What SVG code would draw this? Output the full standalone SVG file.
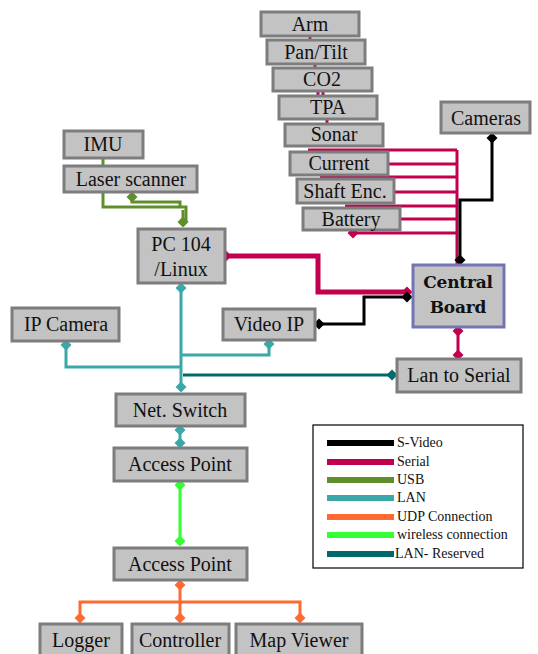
<svg xmlns="http://www.w3.org/2000/svg" width="538" height="654" viewBox="0 0 538 654" font-family="'Liberation Serif', 'Times New Roman', serif">
<style>
.n rect{fill:#c3c3c3;stroke:#7d7d7d;stroke-width:3}
.n text{font-family:'Liberation Serif','Times New Roman',serif;font-size:20px;fill:#111;text-anchor:middle}
.c path{fill:none;stroke-linejoin:miter}
.sv{stroke:#000;stroke-width:3}
.se{stroke:#c2004e;stroke-width:3}
.us{stroke:#5f8f2a;stroke-width:3}
.la{stroke:#3aa8a8;stroke-width:3}
.lr{stroke:#006a6a;stroke-width:3}
.ud{stroke:#ff6a33;stroke-width:3}
.wi{stroke:#33ff33;stroke-width:3}
.lg text{font-family:'Liberation Serif','Times New Roman',serif;font-size:14px;fill:#111}
.lg line{stroke-width:6}
.n text.cb{font-family:'DejaVu Serif',serif;font-weight:900;font-size:17px;letter-spacing:-0.2px}
</style>
<defs>
<marker id="dk" markerUnits="userSpaceOnUse" markerWidth="14" markerHeight="14" refX="7" refY="7" orient="auto"><path d="M1.5,7 L7,1.5 L12.5,7 L7,12.5 Z" fill="#000"/></marker>
<marker id="dr" markerUnits="userSpaceOnUse" markerWidth="14" markerHeight="14" refX="7" refY="7" orient="auto"><path d="M1.5,7 L7,1.5 L12.5,7 L7,12.5 Z" fill="#c2004e"/></marker>
<marker id="dg" markerUnits="userSpaceOnUse" markerWidth="14" markerHeight="14" refX="7" refY="7" orient="auto"><path d="M1.5,7 L7,1.5 L12.5,7 L7,12.5 Z" fill="#5f8f2a"/></marker>
<marker id="dt" markerUnits="userSpaceOnUse" markerWidth="14" markerHeight="14" refX="7" refY="7" orient="auto"><path d="M1.5,7 L7,1.5 L12.5,7 L7,12.5 Z" fill="#3aa8a8"/></marker>
<marker id="dd" markerUnits="userSpaceOnUse" markerWidth="14" markerHeight="14" refX="7" refY="7" orient="auto"><path d="M1.5,7 L7,1.5 L12.5,7 L7,12.5 Z" fill="#006a6a"/></marker>
<marker id="do" markerUnits="userSpaceOnUse" markerWidth="14" markerHeight="14" refX="7" refY="7" orient="auto"><path d="M1.5,7 L7,1.5 L12.5,7 L7,12.5 Z" fill="#ff6a33"/></marker>
<marker id="dl" markerUnits="userSpaceOnUse" markerWidth="14" markerHeight="14" refX="7" refY="7" orient="auto"><path d="M1.5,7 L7,1.5 L12.5,7 L7,12.5 Z" fill="#33ff33"/></marker>
</defs>
<g id="connectors" class="c">
<path class="se" d="M457,150 V266"/>
<path class="se" d="M308,150 H457"/>
<path class="se" d="M388,164 H457"/>
<path class="se" d="M320,177 H457"/>
<path class="se" d="M394,192 H457"/>
<path class="se" d="M345,206 H457"/>
<path class="se" d="M400,219 H457"/>
<path class="se" d="M353,233 H457" marker-start="url(#dr)"/>
<path class="se" d="M310,35 V41"/>
<path class="se" d="M315,63 V69"/>
<path class="se" d="M318,90 V97 M323,90 V97"/>
<path class="se" d="M327,118 V125"/>
<path class="se" d="M226,256 H318 V292 H407" style="stroke-width:5" marker-start="url(#dr)" marker-end="url(#dr)"/>
<path class="se" d="M458,331 V355" marker-start="url(#dr)" marker-end="url(#dr)"/>
<path class="sv" d="M492,138 V200 H460 V260" marker-start="url(#dk)" marker-end="url(#dk)"/>
<path class="sv" d="M319,324 H364 V297 H407" marker-start="url(#dk)" marker-end="url(#dk)"/>
<path class="us" d="M103,158 V166"/>
<path class="us" d="M103,192 V207 H186 V222"/>
<path class="us" d="M132,197 V202 H180 V207" marker-start="url(#dg)"/>
<path class="us" d="M183,210 V222" marker-end="url(#dg)"/>
<path class="la" d="M181,288 V387" marker-start="url(#dt)" marker-end="url(#dt)"/>
<path class="la" d="M66,345 V367 H181" marker-start="url(#dt)"/>
<path class="la" d="M269,344 V355 H181" marker-start="url(#dt)"/>
<path class="la" d="M180,430 V443" marker-start="url(#dt)" marker-end="url(#dt)"/>
<path class="lr" d="M183,375 H392" marker-end="url(#dd)"/>
<path class="wi" d="M180,485 V541" marker-start="url(#dl)" marker-end="url(#dl)"/>
<path class="ud" d="M180,585 V618" marker-start="url(#do)" marker-end="url(#do)"/>
<path class="ud" d="M80,618 V602 H300 V618" marker-start="url(#do)" marker-end="url(#do)"/>
</g>
<g id="arm" class="n"><rect x="261" y="12" width="98" height="24"/><text x="310" y="31">Arm</text></g>
<g id="pantilt" class="n"><rect x="267" y="40" width="98" height="24"/><text x="316" y="59">Pan/Tilt</text></g>
<g id="co2" class="n"><rect x="273" y="68" width="99" height="23"/><text x="322" y="86">CO2</text></g>
<g id="tpa" class="n"><rect x="279" y="96" width="98" height="23"/><text x="328" y="114">TPA</text></g>
<g id="sonar" class="n"><rect x="285" y="124" width="98" height="22"/><text x="334" y="141">Sonar</text></g>
<g id="current" class="n"><rect x="290" y="152" width="98" height="23"/><text x="339" y="170">Current</text></g>
<g id="shaft" class="n"><rect x="297" y="179" width="97" height="24"/><text x="345" y="198">Shaft Enc.</text></g>
<g id="battery" class="n"><rect x="303" y="208" width="97" height="22"/><text x="351" y="226">Battery</text></g>
<g id="cameras" class="n"><rect x="441" y="102" width="89" height="31"/><text x="486" y="125">Cameras</text></g>
<g id="imu" class="n"><rect x="64" y="131" width="79" height="27"/><text x="103" y="151">IMU</text></g>
<g id="laser" class="n"><rect x="64" y="166" width="133" height="26"/><text x="131" y="186">Laser scanner</text></g>
<g id="pc104" class="n"><rect x="138" y="229" width="87" height="54"/><text x="181" y="251">PC 104</text><text x="181" y="276">/Linux</text></g>
<g id="central" class="n"><rect x="413" y="265" width="91" height="62" style="stroke:#7474b4"/><text class="cb" x="458" y="288">Central</text><text class="cb" x="458" y="313">Board</text></g>
<g id="ipcamera" class="n"><rect x="12" y="308" width="107" height="33"/><text x="66" y="331">IP Camera</text></g>
<g id="videoip" class="n"><rect x="223" y="309" width="92" height="31"/><text x="269" y="331">Video IP</text></g>
<g id="lantoserial" class="n"><rect x="397" y="359" width="124" height="33"/><text x="459" y="382">Lan to Serial</text></g>
<g id="netswitch" class="n"><rect x="116" y="394" width="129" height="32"/><text x="180" y="417">Net. Switch</text></g>
<g id="ap1" class="n"><rect x="114" y="448" width="133" height="33"/><text x="180" y="471">Access Point</text></g>
<g id="ap2" class="n"><rect x="114" y="548" width="133" height="32"/><text x="180" y="571">Access Point</text></g>
<g id="logger" class="n"><rect x="40" y="624" width="82" height="36"/><text x="81" y="647">Logger</text></g>
<g id="controller" class="n"><rect x="132" y="624" width="97" height="36"/><text x="180" y="647">Controller</text></g>
<g id="mapviewer" class="n"><rect x="236" y="624" width="126" height="36"/><text x="299" y="647">Map Viewer</text></g>
<g id="legend" class="lg">
<rect x="313" y="425" width="210" height="143" fill="#fff" stroke="#000" stroke-width="1.2"/>
<line x1="327" y1="443" x2="394" y2="443" stroke="#000"/><text x="397" y="447">S-Video</text>
<line x1="327" y1="462" x2="394" y2="462" stroke="#c2004e"/><text x="397" y="466">Serial</text>
<line x1="327" y1="480" x2="394" y2="480" stroke="#5f8f2a"/><text x="397" y="484">USB</text>
<line x1="327" y1="498" x2="394" y2="498" stroke="#3aa8a8"/><text x="397" y="502">LAN</text>
<line x1="327" y1="517" x2="394" y2="517" stroke="#ff6a33"/><text x="397" y="521">UDP Connection</text>
<line x1="327" y1="535" x2="394" y2="535" stroke="#33ff33"/><text x="397" y="539">wireless connection</text>
<line x1="327" y1="554" x2="394" y2="554" stroke="#006a6a"/><text x="395" y="558">LAN- Reserved</text>
</g>
</svg>
